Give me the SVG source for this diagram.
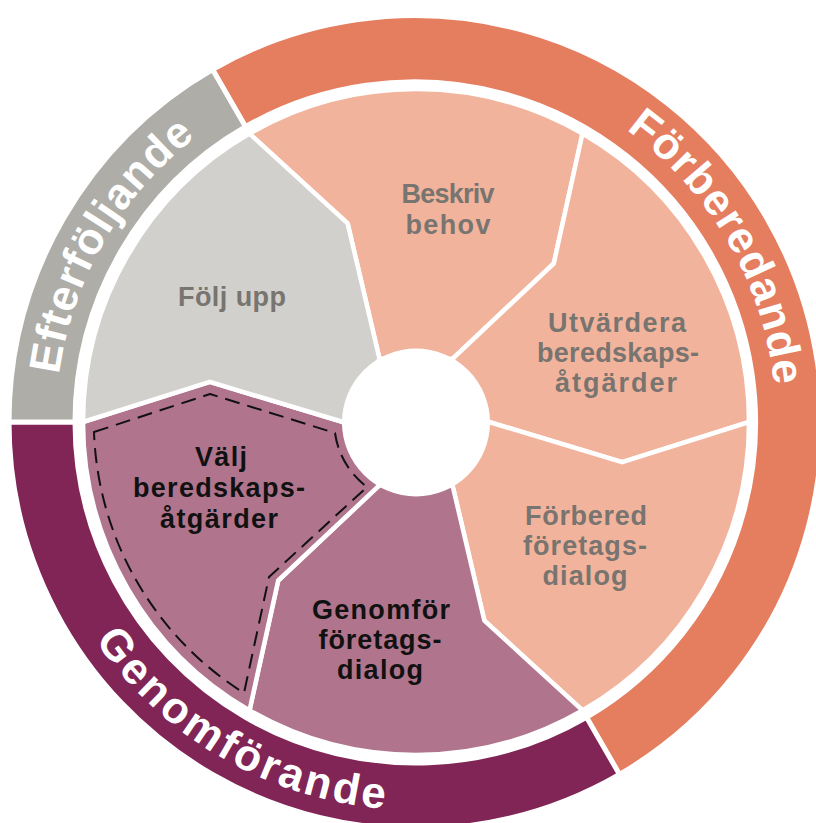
<svg xmlns="http://www.w3.org/2000/svg" xmlns:xlink="http://www.w3.org/1999/xlink" width="816" height="823" viewBox="0 0 816 823">
<style>
  .ring { stroke: #ffffff; stroke-width: 5; stroke-linejoin: miter; }
  .seg { stroke: #ffffff; stroke-width: 4.5; stroke-linejoin: miter; }
  .ringtxt { font-family: "Liberation Sans", Arial, sans-serif; font-weight: bold; font-size: 44px; fill: #ffffff; }
  .lbl { font-family: "Liberation Sans", Arial, sans-serif; font-weight: bold; font-size: 27px; text-anchor: middle; }
  .g { fill: #787470; }
  .k { fill: #111111; }
  .dash { fill: none; stroke: #111111; stroke-width: 2; stroke-dasharray: 15 8; stroke-linejoin: round; }
</style>
<defs>
  <path id="arc-forb" d="M 263.86,95.73 A 360 360 0 0 1 622.49,716.89"/>
  <path id="arc-efter" d="M 104.23,602 A 360 360 0 0 1 416,62"/>
  <path id="arc-genom" d="M 33.89,354.63 A 388 388 0 0 0 665.40,719.22"/>
</defs>
<rect width="816" height="823" fill="#ffffff"/>

<g id="phase-forberedande">
  <path class="ring" fill="#E57D5F" d="M 212.5,69.53 A 407 407 0 0 1 619.5,774.47 L 586.5,717.31 A 341 341 0 0 0 245.5,126.69 Z"/>
  <text class="ringtxt" letter-spacing="1"><textPath xlink:href="#arc-forb" href="#arc-forb" startOffset="50%" text-anchor="middle">Förberedande</textPath></text>
</g>
<g id="phase-genomforande">
  <path class="ring" fill="#802555" d="M 619.5,774.47 A 407 407 0 0 1 9,422 L 75,422 A 341 341 0 0 0 586.5,717.31 Z"/>
  <text class="ringtxt" letter-spacing="3"><textPath xlink:href="#arc-genom" href="#arc-genom" startOffset="50%" text-anchor="middle">Genomförande</textPath></text>
</g>
<g id="phase-efterfoljande">
  <path class="ring" fill="#AEADA7" d="M 9,422 A 407 407 0 0 1 212.5,69.53 L 245.5,126.69 A 341 341 0 0 0 75,422 Z"/>
  <text class="ringtxt" letter-spacing="1"><textPath xlink:href="#arc-efter" href="#arc-efter" startOffset="50%" text-anchor="middle">Efterföljande</textPath></text>
</g>

<g id="step-beskriv-behov">
  <path class="seg" fill="#F2B39C" d="M 379.5,358.78 L 347.63,223.44 L 249.5,133.61 A 333 333 0 0 1 582.5,133.61 L 553.77,263.51 L 452.5,358.78 Z"/>
  <text class="lbl g"><tspan x="448" y="203" textLength="93" lengthAdjust="spacing">Beskriv</tspan><tspan x="448" y="234" textLength="85" lengthAdjust="spacing">behov</tspan></text>
</g>
<g id="step-utvardera">
  <path class="seg" fill="#F2B39C" d="M 452.5,358.78 L 553.77,263.51 L 582.5,133.61 A 333 333 0 0 1 749,422 L 622.14,462.07 L 489,422 Z"/>
  <text class="lbl g"><tspan x="617" y="332" textLength="138" lengthAdjust="spacing">Utvärdera</tspan><tspan x="618" y="362" textLength="162" lengthAdjust="spacing">beredskaps-</tspan><tspan x="616" y="392" textLength="122" lengthAdjust="spacing">åtgärder</tspan></text>
</g>
<g id="step-forbered">
  <path class="seg" fill="#F2B39C" d="M 489,422 L 622.14,462.07 L 749,422 A 333 333 0 0 1 582.5,710.39 L 484.37,620.56 L 452.5,485.22 Z"/>
  <text class="lbl g"><tspan x="586" y="525" textLength="122" lengthAdjust="spacing">Förbered</tspan><tspan x="585" y="555" textLength="124" lengthAdjust="spacing">företags-</tspan><tspan x="585" y="585" textLength="85" lengthAdjust="spacing">dialog</tspan></text>
</g>
<g id="step-genomfor">
  <path class="seg" fill="#B0758D" d="M 452.5,485.22 L 484.37,620.56 L 582.5,710.39 A 333 333 0 0 1 249.5,710.39 L 278.23,580.49 L 379.5,485.22 Z"/>
  <text class="lbl k"><tspan x="381" y="619" textLength="138" lengthAdjust="spacing">Genomför</tspan><tspan x="380" y="649" textLength="123" lengthAdjust="spacing">företags-</tspan><tspan x="380" y="679" textLength="86" lengthAdjust="spacing">dialog</tspan></text>
</g>
<g id="step-valj">
  <path class="seg" fill="#B0758D" d="M 379.5,485.22 L 278.23,580.49 L 249.5,710.39 A 333 333 0 0 1 83,422 L 209.86,381.93 L 343,422 Z"/>
  <text class="lbl k"><tspan x="221" y="466" textLength="52" lengthAdjust="spacing">Välj</tspan><tspan x="219" y="497" textLength="172" lengthAdjust="spacing">beredskaps-</tspan><tspan x="219" y="528" textLength="118" lengthAdjust="spacing">åtgärder</tspan></text>
</g>
<g id="step-folj-upp">
  <path class="seg" fill="#D1D0CC" d="M 343,422 L 209.86,381.93 L 83,422 A 333 333 0 0 1 249.5,133.61 L 347.63,223.44 L 379.5,358.78 Z"/>
  <text class="lbl g"><tspan x="232" y="306" textLength="108" lengthAdjust="spacing">Följ upp</tspan></text>
</g>

<g id="hub">
  <circle cx="416" cy="422.5" r="74" fill="#ffffff"/>
</g>

<g id="selection-outline">
  <path class="dash" d="M 94,432 L 210,394 L 335,433 A 81.5 81.5 0 0 0 367,487 L 269,577 L 244,693 A 322 322 0 0 1 94,432 Z"/>
</g>
</svg>
